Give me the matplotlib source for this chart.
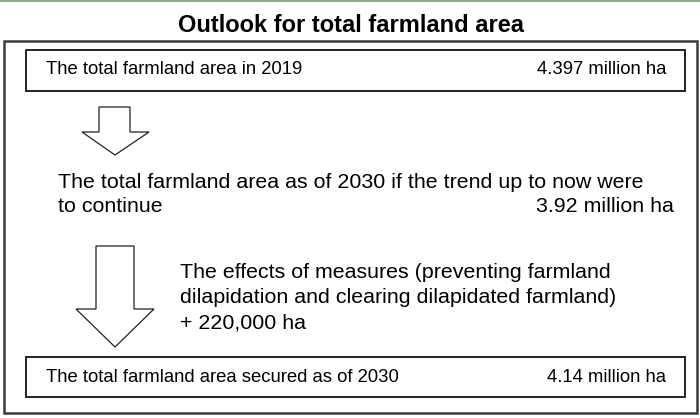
import matplotlib
matplotlib.use("Agg")
import matplotlib.pyplot as plt
from matplotlib.patches import Rectangle, Polygon

plt.rcParams['font.family'] = ['Liberation Sans', 'DejaVu Sans']

title = "Outlook for total farmland area"
box_labels = ["The total farmland area in 2019", "The total farmland area secured as of 2030"]
box_values = ["4.397 million ha", "4.14 million ha"]
trend_lines = ["The total farmland area as of 2030 if the trend up to now were", "to continue"]
trend_value = "3.92 million ha"
effect_lines = ["The effects of measures (preventing farmland",
                "dilapidation and clearing dilapidated farmland)",
                "+ 220,000 ha"]

W, H = 700, 418
fig = plt.figure(figsize=(W / 100, H / 100), dpi=100)
ax = fig.add_axes([0, 0, 1, 1])
ax.set_xlim(0, W)
ax.set_ylim(H, 0)
ax.axis('off')

# green top line
ax.plot([0, W], [0.7, 0.7], color='#8aab8a', lw=1.4)

# title
ax.text(351, 26, title, ha='center', va='center', fontsize=17, fontweight='bold')

# outer frame
ax.add_patch(Rectangle((4, 41), 693, 372, fill=False, ec='#3a3a3a', lw=1.8))

# top box
ax.add_patch(Rectangle((25.7, 49.5), 659.3, 41, fill=False, ec='#111111', lw=1.3))
ax.text(46, 70, box_labels[0], ha='left', va='center', fontsize=13.3)
ax.text(666, 70, box_values[0], ha='right', va='center', fontsize=13.3)

# small arrow
small = [(99, 107), (130, 107), (130, 132), (149, 132), (115, 155), (82, 132), (99, 132)]
ax.add_patch(Polygon(small, closed=True, fill=True, fc='white', ec='#222222', lw=0.9))

# trend text
ax.text(58, 183, trend_lines[0], ha='left', va='center', fontsize=15.4)
ax.text(58, 207, trend_lines[1], ha='left', va='center', fontsize=15.4)
ax.text(674, 207, trend_value, ha='right', va='center', fontsize=15.4)

# big arrow
big = [(96, 246), (134, 246), (134, 309), (154, 309), (115, 347), (76, 309), (96, 309)]
ax.add_patch(Polygon(big, closed=True, fill=True, fc='white', ec='#222222', lw=0.9))

# effects text
for i, line in enumerate(effect_lines):
    ax.text(180, 272 + 25.5 * i, line, ha='left', va='center', fontsize=15.4)

# bottom box
ax.add_patch(Rectangle((25.7, 356.5), 659.3, 40.5, fill=False, ec='#111111', lw=1.3))
ax.text(46, 378, box_labels[1], ha='left', va='center', fontsize=13.3)
ax.text(666, 378, box_values[1], ha='right', va='center', fontsize=13.3)

fig.savefig("out.png", dpi=100)
